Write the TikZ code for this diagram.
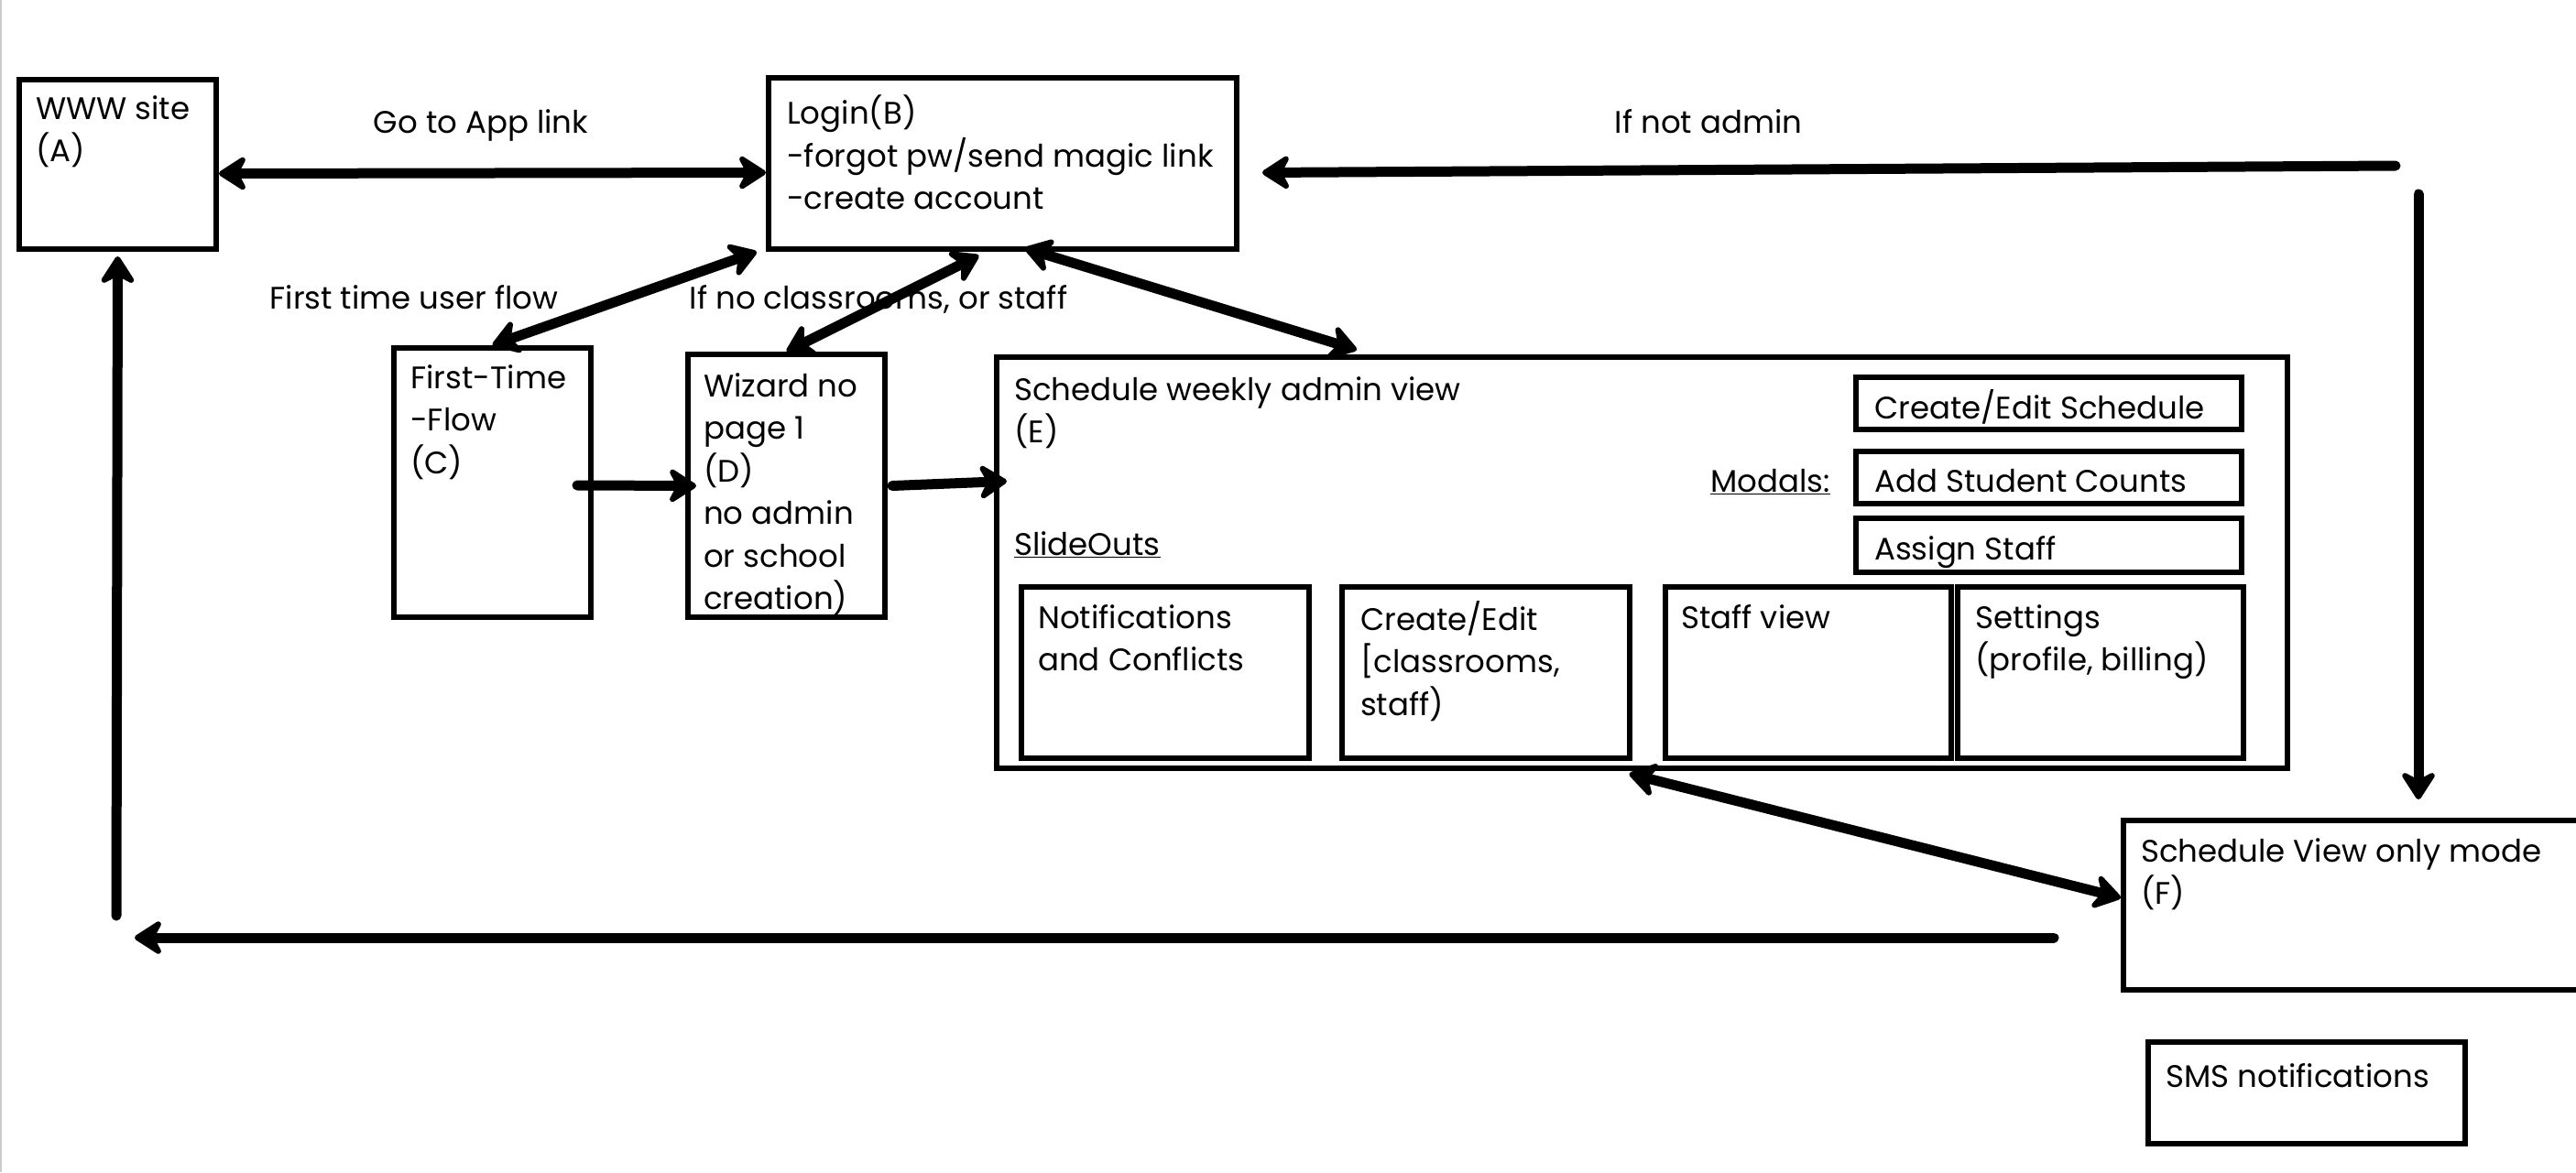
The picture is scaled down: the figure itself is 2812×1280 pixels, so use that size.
\documentclass[tikz,border=0pt]{standalone}
\usepackage{fontspec}
\setmainfont{Poppins}
\usetikzlibrary{arrows.meta,calc}
\newcommand\mainfs{\fontsize{34}{46.5}\selectfont}
\begin{document}
\begin{tikzpicture}[x=1pt,y=-1pt,
  box/.style={draw, line width=6pt, anchor=north west, inner sep=0pt},
  txt/.style={anchor=north west, inner sep=0pt, align=left, font=\mainfs},
  lbl/.style={anchor=base, inner sep=0pt, font=\mainfs},
  conn/.style={line width=11pt, line cap=round, -{Stealth[length=36pt,width=46pt,inset=12pt,round]}},
  dconn/.style={line width=11pt, line cap=round, {Stealth[length=36pt,width=46pt,inset=12pt,round]}-{Stealth[length=36pt,width=46pt,inset=12pt,round]}}]
\useasboundingbox (0,0) rectangle (2812,1280);
\fill[white] (0,0) rectangle (2812,1280);
\draw[gray!40, line width=2pt] (1,0) -- (1,1280);

% boxes
\node[box, minimum width=215pt, minimum height=185pt] (A) at (18,84) {};
\node[box, minimum width=511pt, minimum height=187pt] (B) at (836,82) {};
\node[box, minimum width=215pt, minimum height=294pt] (C) at (427,377) {};
\node[box, minimum width=215pt, minimum height=287pt] (D) at (748,384) {};
\node[box, minimum width=1409pt, minimum height=449pt] (E) at (1085,387) {};
\node[box, minimum width=421pt, minimum height=57pt] (M1) at (2023,409) {};
\node[box, minimum width=421pt, minimum height=57pt] (M2) at (2023,490) {};
\node[box, minimum width=421pt, minimum height=59pt] (M3) at (2023,563) {};
\node[box, minimum width=314pt, minimum height=187pt] (S1) at (1112,638) {};
\node[box, minimum width=314pt, minimum height=187pt] (S2) at (1462,638) {};
\node[box, minimum width=312pt, minimum height=187pt] (S3) at (1815,638) {};
\node[box, minimum width=312pt, minimum height=187pt] (S4) at (2134,638) {};
\node[box, minimum width=540pt, minimum height=185pt] (F) at (2315,893) {};
\node[box, minimum width=346pt, minimum height=111pt] (SMS) at (2342,1135) {};

% texts
\node[txt] (tA) at (39,104) {WWW site\\(A)};
\node[txt] (tB) at (859,104) {Login(B)\\-forgot pw/send magic link\\-create account};
\node[txt] (tC) at (448,398) {First-Time\\-Flow\\(C)};
\node[txt] (tD) at (768,407) {Wizard no\\page 1\\(D)\\no admin\\or school\\creation)};
\node[txt] (tE) at (1107,411) {Schedule weekly admin view\\(E)};
\node[lbl, anchor=base east] (tMod) at (1998,537) {\underline{Modals:}};
\node[lbl, anchor=base west] (tSl) at (1107,606) {\underline{SlideOuts}};
\node[lbl, anchor=base west] (tM1) at (2046,457) {Create/Edit Schedule};
\node[lbl, anchor=base west] (tM2) at (2046,537) {Add Student Counts};
\node[lbl, anchor=base west] (tM3) at (2046,611) {Assign Staff};
\node[txt] (tS1) at (1133,660) {Notifications\\and Conflicts};
\node[txt] (tS2) at (1485,656) {Create/Edit\\{[}classrooms,\\staff)};
\node[txt] (tS3) at (1835,660) {Staff view};
\node[txt] (tS4) at (2156,660) {Settings\\(profile, billing)};
\node[txt] (tF) at (2337,915) {Schedule View only mode\\(F)};
\node[lbl, anchor=base west] (tSMS) at (2364,1187) {SMS notifications};

% labels
\node[lbl] (l1) at (525,145) {Go to App link};
\node[lbl] (l2) at (1865,145) {If not admin};
\node[lbl] (l3) at (452,337) {First time user flow};
\node[lbl] (l4) at (959,337) {If no classrooms, or staff};

% connectors
\coordinate (na) at (2615,181);
\coordinate (vd) at (2640,212);
\coordinate (b1) at (2242,1024);
\coordinate (b2) at (147,1024);
\coordinate (u1) at (127,1000);

\draw[dconn] ([yshift=-10pt]A.east) -- ([yshift=-10pt]B.west);
\draw[conn] (na) -- ([xshift=25pt,yshift=-10pt]B.east);
\draw[conn] (vd) -- ($(vd |- F.north)+(0,-20)$);
\draw[dconn] ([xshift=-10pt]B.south west) -- (C.north);
\draw[dconn] ([xshift=-26pt,yshift=-4pt]B.south) -- (D.north);
\draw[dconn] ([xshift=24pt,yshift=4pt]B.south) -- ([xshift=396pt,yshift=5pt]E.north west);
\draw[conn] ([xshift=-18pt,yshift=-3pt]C.east) -- ([xshift=12pt]D.west);
\draw[conn] ([xshift=5pt]D.east) -- ([xshift=14pt,yshift=89pt]E.west);
\draw[dconn] ([xshift=-14pt,yshift=-3pt]E.south) -- ([yshift=8pt]F.west);
\draw[conn] (b1) -- (b2);
\draw[conn] (u1) -- ([yshift=-5pt]A.south);
\end{tikzpicture}
\end{document}
